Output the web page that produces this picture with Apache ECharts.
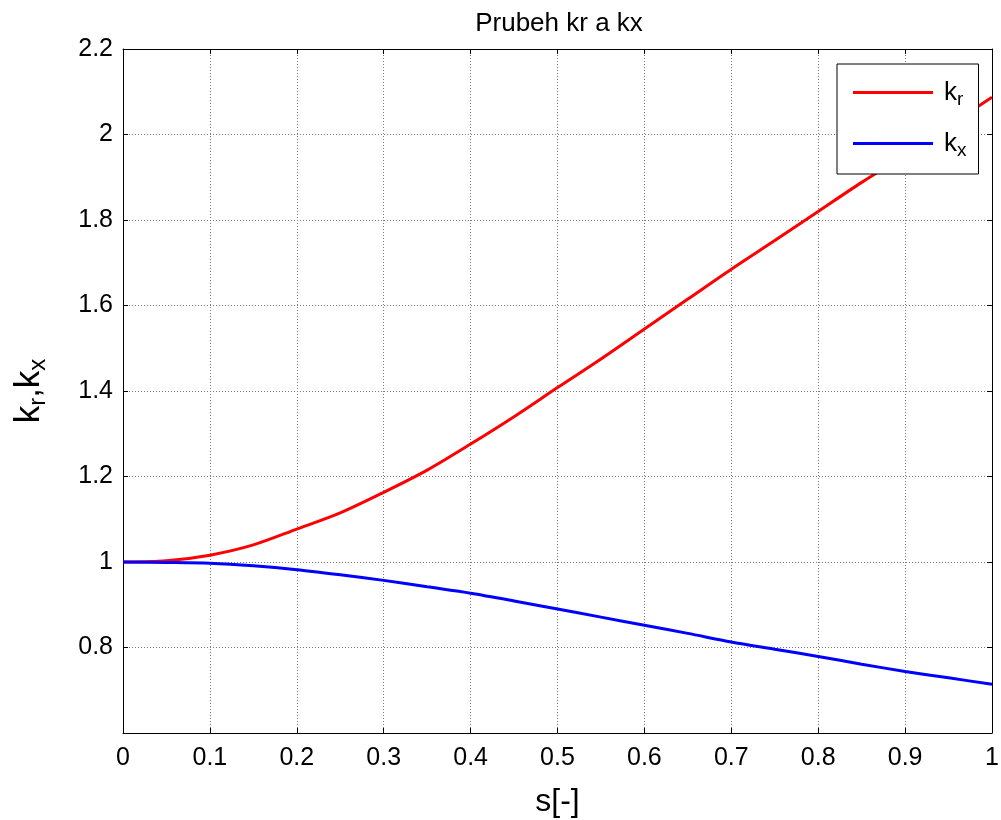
<!DOCTYPE html>
<html>
<head>
<meta charset="utf-8">
<script src="https://cdn.jsdelivr.net/npm/echarts@6/dist/echarts.min.js"></script>
<style>
  html, body { margin: 0; padding: 0; background: #fff; }
  #chart { width: 1001px; height: 820px; }
</style>
</head>
<body>
<div id="chart"></div>
<script>
// skluz s[-]
const sValues = [0, 0.05, 0.1, 0.15, 0.2, 0.25, 0.3, 0.35, 0.4, 0.45, 0.5,
  0.55, 0.6, 0.65, 0.7, 0.75, 0.8, 0.85, 0.9, 0.95, 1.0];
// odcitane z obrazku
const krValues = [1.000, 1.003, 1.016, 1.040, 1.077, 1.115, 1.163, 1.215, 1.276, 1.340, 1.408,
  1.475, 1.545, 1.615, 1.685, 1.752, 1.820, 1.888, 1.952, 2.020, 2.087];
const kxValues = [1.000, 0.999, 0.997, 0.991, 0.982, 0.970, 0.957, 0.942, 0.927, 0.909, 0.890,
  0.871, 0.852, 0.833, 0.813, 0.796, 0.779, 0.761, 0.744, 0.729, 0.714];
const xTicks = [0, 0.1, 0.2, 0.3, 0.4, 0.5, 0.6, 0.7, 0.8, 0.9, 1];
const yTicks = [0.6, 0.8, 1, 1.2, 1.4, 1.6, 1.8, 2, 2.2];

const font = "Liberation Sans";
const chart = echarts.init(document.getElementById("chart"));

const fmt = (v) => String(Math.round(v * 10) / 10);
const gridLine = { show: true, lineStyle: { color: "#7a7a7a", type: [1, 2], width: 1 } };
const tick = { show: true, inside: true, length: 5, lineStyle: { color: "#000" } };
const line = { show: true, onZero: false, lineStyle: { color: "#000", width: 1 } };

const option = {
  animation: false,
  backgroundColor: "#fff",
  title: {
    text: "Prubeh kr a kx",
    left: 554,
    textAlign: "center",
    top: 6,
    textStyle: { fontFamily: font, fontSize: 26, fontWeight: "normal", color: "#000" },
  },
  // MATLAB-like box, pevna plocha grafu
  grid: { left: 123, right: 9, top: 49, bottom: 87, outerBoundsMode: "none" },
  legend: {
    left: 837,
    top: 64,
    orient: "vertical",
    backgroundColor: "#fff",
    borderColor: "#000",
    borderWidth: 1,
    borderRadius: 0,
    padding: [12, 12, 14, 16],
    itemGap: 18,
    itemWidth: 80,
    itemHeight: 3,
    icon: "rect",
    data: ["kr", "kx"],
    formatter: (name) => "{a|k}{s|" + name.slice(1) + "}",
    textStyle: {
      fontFamily: font,
      color: "#000",
      rich: {
        a: { fontSize: 26, fontFamily: font, lineHeight: 32, padding: [0, 0, 0, 6] },
        s: { fontSize: 19, fontFamily: font, padding: [14, 0, 0, 0], lineHeight: 32 },
      },
    },
  },
  xAxis: [
    {
      type: "value",
      min: 0,
      max: 1,
      interval: 0.1,
      name: "s[-]",
      nameLocation: "middle",
      nameGap: 53,
      nameTextStyle: { fontFamily: font, fontSize: 32, color: "#000" },
      axisLine: line,
      axisTick: tick,
      splitLine: gridLine,
      axisLabel: { fontFamily: font, fontSize: 25, color: "#000", margin: 13, formatter: fmt },
    },
    {
      type: "value",
      position: "top",
      min: 0,
      max: 1,
      interval: 0.1,
      axisLine: line,
      axisTick: tick,
      splitLine: { show: false },
      axisLabel: { show: false },
    },
  ],
  yAxis: [
    {
      type: "value",
      min: 0.6,
      max: 2.2,
      interval: 0.2,
      name: "{a|k}{s|r}{a|,k}{s|x}",
      nameLocation: "middle",
      nameGap: 73,
      nameRotate: 90,
      nameTextStyle: {
        fontFamily: font,
        color: "#000",
        rich: {
          a: { fontSize: 35, fontFamily: font, lineHeight: 42 },
          s: { fontSize: 24, fontFamily: font, padding: [18, 0, 0, 0], lineHeight: 42 },
        },
      },
      axisLine: line,
      axisTick: tick,
      splitLine: gridLine,
      axisLabel: {
        fontFamily: font,
        fontSize: 25,
        color: "#000",
        margin: 10,
        formatter: (v) => (Math.abs(v - 0.6) < 1e-6 ? "" : fmt(v)),
      },
    },
    {
      type: "value",
      position: "right",
      min: 0.6,
      max: 2.2,
      interval: 0.2,
      axisLine: line,
      axisTick: tick,
      splitLine: { show: false },
      axisLabel: { show: false },
    },
  ],
  series: [
    {
      name: "kr",
      type: "line",
      data: sValues.map((s, i) => [s, krValues[i]]),
      showSymbol: false,
      smooth: 0.3,
      color: "#ff0000",
      lineStyle: { color: "#ff0000", width: 3 },
      z: 3,
    },
    {
      name: "kx",
      type: "line",
      data: sValues.map((s, i) => [s, kxValues[i]]),
      showSymbol: false,
      smooth: 0.3,
      color: "#0000ff",
      lineStyle: { color: "#0000ff", width: 3 },
      z: 3,
    },
  ],
};

chart.setOption(option);
</script>
</body>
</html>
